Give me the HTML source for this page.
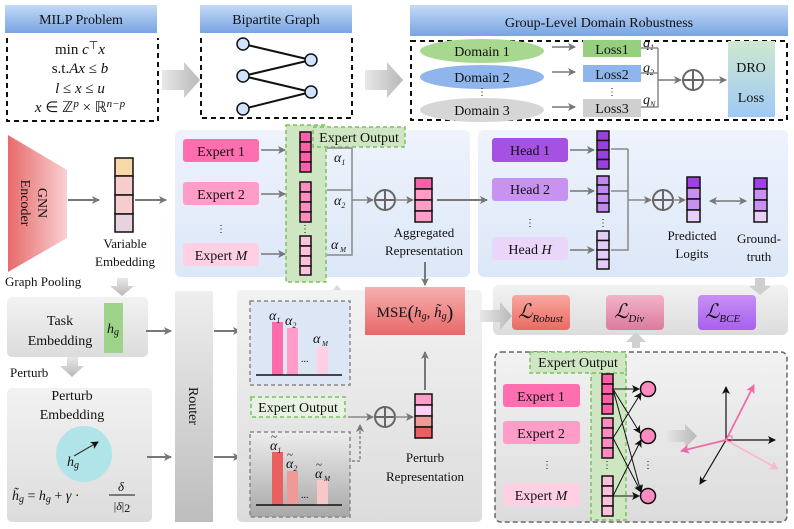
<!DOCTYPE html>
<html><head><meta charset="utf-8"><style>
html,body{margin:0;padding:0;background:#fff}
svg{display:block}
text{font-family:"Liberation Serif",serif;fill:#111}
.m{font-style:italic}
</style></head><body>
<svg width="794" height="529" viewBox="0 0 794 529" xmlns="http://www.w3.org/2000/svg">
<defs>
<linearGradient id="hdr" x1="0" y1="0" x2="0" y2="1"><stop offset="0" stop-color="#c3daf7"/><stop offset="1" stop-color="#78a4e2"/></linearGradient>
<linearGradient id="garr" x1="0" y1="0" x2="1" y2="0"><stop offset="0" stop-color="#e8e8e8"/><stop offset="1" stop-color="#b8b8b8"/></linearGradient>
<linearGradient id="garrv" x1="0" y1="0" x2="0" y2="1"><stop offset="0" stop-color="#e8e8e8"/><stop offset="1" stop-color="#b8b8b8"/></linearGradient>
<linearGradient id="gnn" x1="0" y1="0" x2="1" y2="0"><stop offset="0" stop-color="#e86a6a"/><stop offset="1" stop-color="#f8d0d0"/></linearGradient>
<linearGradient id="blue" x1="0" y1="0" x2="0" y2="1"><stop offset="0" stop-color="#eef3fc"/><stop offset="1" stop-color="#dce7f7"/></linearGradient>
<linearGradient id="grey" x1="0" y1="0" x2="0" y2="1"><stop offset="0" stop-color="#f2f2f2"/><stop offset="1" stop-color="#dcdcdc"/></linearGradient>
<linearGradient id="router" x1="0" y1="0" x2="0" y2="1"><stop offset="0" stop-color="#eeeeee"/><stop offset="1" stop-color="#bdbdbd"/></linearGradient>
<linearGradient id="dro" x1="0" y1="0" x2="0" y2="1"><stop offset="0" stop-color="#cfe8d0"/><stop offset="1" stop-color="#9fcaf5"/></linearGradient>
<linearGradient id="mse" x1="0" y1="0" x2="0" y2="1"><stop offset="0" stop-color="#f6b0b0"/><stop offset="1" stop-color="#e86868"/></linearGradient>
<linearGradient id="lr" x1="0" y1="0" x2="0" y2="1"><stop offset="0" stop-color="#f8a8a0"/><stop offset="1" stop-color="#ea6a62"/></linearGradient>
<linearGradient id="ld" x1="0" y1="0" x2="0" y2="1"><stop offset="0" stop-color="#f2b4c8"/><stop offset="1" stop-color="#dc7aa0"/></linearGradient>
<linearGradient id="lb" x1="0" y1="0" x2="0" y2="1"><stop offset="0" stop-color="#c890f5"/><stop offset="1" stop-color="#a860ee"/></linearGradient>
<linearGradient id="gbar" x1="0" y1="0" x2="0" y2="1"><stop offset="0" stop-color="#ededed"/><stop offset="1" stop-color="#a8a8a8"/></linearGradient>
<marker id="a" markerWidth="8" markerHeight="8" refX="7" refY="4" orient="auto" markerUnits="userSpaceOnUse"><path d="M0,0 L8,4 L0,8 L2,4 Z" fill="#777"/></marker>
<marker id="ak" markerWidth="8" markerHeight="8" refX="7" refY="4" orient="auto" markerUnits="userSpaceOnUse"><path d="M0,0 L8,4 L0,8 L2,4 Z" fill="#111"/></marker>
<marker id="ap" markerWidth="9" markerHeight="9" refX="8" refY="4.5" orient="auto" markerUnits="userSpaceOnUse"><path d="M0,0 L9,4.5 L0,9 L2,4.5 Z" fill="#f06aa8"/></marker>
<marker id="al" markerWidth="9" markerHeight="9" refX="8" refY="4.5" orient="auto" markerUnits="userSpaceOnUse"><path d="M0,0 L9,4.5 L0,9 L2,4.5 Z" fill="#f8b8d0"/></marker>
<marker id="as" markerWidth="8" markerHeight="8" refX="1" refY="4" orient="auto" markerUnits="userSpaceOnUse"><path d="M8,0 L0,4 L8,8 L6,4 Z" fill="#777"/></marker>
</defs>

<!-- TOP ROW -->
<rect x="5" y="5" width="152" height="28" fill="url(#hdr)"/>
<text x="81" y="24" font-size="14" text-anchor="middle">MILP Problem</text>
<path d="M7,38 V121 H158 V38" fill="none" stroke="#111" stroke-width="2" stroke-dasharray="5,4"/>
<g font-size="15" text-anchor="middle">
<text x="80" y="54">min <tspan class="m">c</tspan><tspan dy="-5" font-size="11">⊤</tspan><tspan dy="5" class="m">x</tspan></text>
<text x="80" y="73">s.t.<tspan class="m">Ax</tspan> ≤ <tspan class="m">b</tspan></text>
<text x="80" y="93"><tspan class="m">l</tspan> ≤ <tspan class="m">x</tspan> ≤ <tspan class="m">u</tspan></text>
<text x="80" y="112"><tspan class="m">x</tspan> ∈ ℤ<tspan dy="-5" font-size="11" class="m">p</tspan><tspan dy="5"> × ℝ</tspan><tspan dy="-5" font-size="11" class="m">n−p</tspan></text>
</g>
<path d="M162,70 H184 V62 L200,80 L184,98 V90 H162 Z" fill="url(#garr)"/>

<rect x="200" y="5" width="152" height="28" fill="url(#hdr)"/>
<text x="276" y="24" font-size="14" text-anchor="middle">Bipartite Graph</text>
<path d="M201,38 V118 H352 V38" fill="none" stroke="#111" stroke-width="2" stroke-dasharray="5,4"/>
<g stroke="#111" stroke-width="2"><line x1="243" y1="44" x2="311" y2="60"/><line x1="243" y1="76" x2="311" y2="60"/><line x1="243" y1="76" x2="311" y2="92"/><line x1="243" y1="109" x2="311" y2="92"/></g>
<g fill="#cfe4fa" stroke="#111" stroke-width="1.5"><circle cx="243" cy="44" r="6"/><circle cx="243" cy="76" r="6"/><circle cx="243" cy="109" r="6"/><circle cx="311" cy="60" r="6"/><circle cx="311" cy="92" r="6"/></g>
<path d="M365,70 H387 V62 L403,80 L387,98 V90 H365 Z" fill="url(#garr)"/>

<rect x="410" y="5" width="378" height="31" fill="url(#hdr)"/>
<text x="599" y="27" font-size="14" text-anchor="middle">Group-Level Domain Robustness</text>
<rect x="411" y="41" width="376" height="79" fill="none" stroke="#111" stroke-width="2" stroke-dasharray="5,4"/>
<ellipse cx="482" cy="51" rx="62" ry="12" fill="#a8d890"/>
<ellipse cx="482" cy="77" rx="62" ry="12" fill="#8fb6ec"/>
<ellipse cx="482" cy="110" rx="62" ry="12" fill="#d6d6d6"/>
<g font-size="14" text-anchor="middle"><text x="482" y="56">Domain 1</text><text x="482" y="82">Domain 2</text><text x="482" y="115">Domain 3</text><text x="482" y="95" font-size="10">⋮</text></g>
<g stroke="#777" stroke-width="1.5" marker-end="url(#a)"><line x1="552" y1="47" x2="575" y2="47"/><line x1="552" y1="72" x2="575" y2="72"/><line x1="552" y1="107" x2="575" y2="107"/></g>
<rect x="583" y="40" width="58" height="17" fill="#96cf80"/>
<rect x="583" y="65" width="58" height="17" fill="#8fb6ec"/>
<rect x="583" y="99" width="58" height="18" fill="#cfcfcf"/>
<g font-size="14" text-anchor="middle"><text x="612" y="54">Loss1</text><text x="612" y="79">Loss2</text><text x="612" y="113">Loss3</text><text x="612" y="95" font-size="10">⋮</text></g>
<g font-size="14" class="m"><text x="643" y="47">q<tspan font-size="8" dy="3">1</tspan></text><text x="643" y="72">q<tspan font-size="8" dy="3">2</tspan></text><text x="643" y="104">q<tspan font-size="8" dy="3">N</tspan></text></g>
<path d="M641,48 H658 M641,73 H658 M641,107 H658 V48" fill="none" stroke="#888" stroke-width="1.5"/>
<line x1="658" y1="80" x2="681" y2="80" stroke="#777" stroke-width="1.5" marker-end="url(#a)"/>
<circle cx="693" cy="80" r="10" fill="none" stroke="#666" stroke-width="2"/><path d="M683,80 H703 M693,70 V90" stroke="#666" stroke-width="2"/>
<line x1="703" y1="80" x2="726" y2="80" stroke="#777" stroke-width="1.5" marker-end="url(#a)"/>
<rect x="728" y="41" width="47" height="76" fill="url(#dro)"/>
<g font-size="14" text-anchor="middle"><text x="751" y="72">DRO</text><text x="751" y="102">Loss</text></g>

<!-- MIDDLE ROW -->
<path d="M8,135 L67,170 L67,238 L8,272 Z" fill="url(#gnn)"/>
<text transform="translate(34,203) rotate(90)" font-size="14" text-anchor="middle"><tspan x="0" dy="-4">GNN</tspan><tspan x="0" dy="17">Encoder</tspan></text>
<line x1="68" y1="200" x2="99" y2="200" stroke="#777" stroke-width="2" marker-end="url(#a)"/>
<g stroke="#111" stroke-width="1.5"><rect x="115" y="158" width="18" height="18" fill="#f8d7a8"/><rect x="115" y="176" width="18" height="19" fill="#f6cccc"/><rect x="115" y="195" width="18" height="19" fill="#f6cccc"/><rect x="115" y="214" width="18" height="18" fill="#e8d2de"/></g>
<g font-size="13" text-anchor="middle"><text x="125" y="248">Variable</text><text x="125" y="266">Embedding</text></g>
<line x1="135" y1="200" x2="166" y2="200" stroke="#777" stroke-width="2" marker-end="url(#a)"/>

<rect x="175" y="130" width="295" height="147" rx="6" fill="url(#blue)"/>
<rect x="183" y="139" width="76" height="23" rx="3" fill="#ff6fb0"/>
<rect x="183" y="182" width="76" height="23" rx="3" fill="#ff9cc8"/>
<rect x="183" y="243" width="76" height="23" rx="3" fill="#ffd0e4"/>
<g font-size="14" text-anchor="middle"><text x="221" y="156">Expert 1</text><text x="221" y="199">Expert 2</text><text x="221" y="260">Expert <tspan class="m">M</tspan></text><text x="221" y="232" font-size="10">⋮</text></g>
<g stroke="#777" stroke-width="1.5" marker-end="url(#a)"><line x1="261" y1="150" x2="285" y2="150"/><line x1="261" y1="194" x2="285" y2="194"/><line x1="261" y1="254" x2="285" y2="254"/></g>
<rect x="286" y="125" width="40" height="157" fill="#cfe6c3" stroke="#7cc060" stroke-width="1.5" stroke-dasharray="4,3"/>
<rect x="313" y="127" width="92" height="20" fill="#cfe6c3" stroke="#7cc060" stroke-width="1.5" stroke-dasharray="4,3"/>
<text x="359" y="142" font-size="14" text-anchor="middle">Expert Output</text>
<g stroke="#111" stroke-width="1.5">
<rect x="300" y="132" width="11" height="10" fill="#ff5fa8"/><rect x="300" y="142" width="11" height="10" fill="#ff5fa8"/><rect x="300" y="152" width="11" height="10" fill="#ff5fa8"/><rect x="300" y="162" width="11" height="10" fill="#ff5fa8"/>
<rect x="300" y="182" width="11" height="10" fill="#ff8cc0"/><rect x="300" y="192" width="11" height="10" fill="#ff8cc0"/><rect x="300" y="202" width="11" height="10" fill="#ff8cc0"/><rect x="300" y="212" width="11" height="10" fill="#ff8cc0"/>
<rect x="300" y="236" width="11" height="10" fill="#ffc0dc"/><rect x="300" y="246" width="11" height="10" fill="#ffc0dc"/><rect x="300" y="256" width="11" height="10" fill="#ffc0dc"/><rect x="300" y="266" width="11" height="9" fill="#ffc0dc"/>
</g>
<text x="305" y="232" font-size="10" text-anchor="middle">⋮</text>
<path d="M327,148 H352 M327,190 H352 M327,255 H352 V148" fill="none" stroke="#888" stroke-width="1.5"/>
<g font-size="14" class="m"><text x="334" y="162">α<tspan font-size="8" dy="3">1</tspan></text><text x="334" y="205">α<tspan font-size="8" dy="3">2</tspan></text><text x="331" y="249">α<tspan font-size="7" dy="3"> M</tspan></text></g>
<line x1="352" y1="200" x2="373" y2="200" stroke="#888" stroke-width="1.5" marker-end="url(#a)"/>
<circle cx="385" cy="200" r="10" fill="none" stroke="#666" stroke-width="2"/><path d="M375,200 H395 M385,190 V210" stroke="#666" stroke-width="2"/>
<line x1="395" y1="200" x2="413" y2="200" stroke="#888" stroke-width="1.5" marker-end="url(#a)"/>
<g stroke="#111" stroke-width="1.5"><rect x="415" y="178" width="17" height="11" fill="#ff5fa8"/><rect x="415" y="189" width="17" height="11" fill="#ff9cc8"/><rect x="415" y="200" width="17" height="11" fill="#ff9cc8"/><rect x="415" y="211" width="17" height="11" fill="#ff9cc8"/></g>
<g font-size="13" text-anchor="middle"><text x="424" y="237">Aggregated</text><text x="424" y="255">Representation</text></g>

<rect x="478" y="130" width="310" height="147" rx="6" fill="url(#blue)"/>
<line x1="437" y1="200" x2="487" y2="200" stroke="#777" stroke-width="2" marker-end="url(#a)"/>
<rect x="492" y="138" width="76" height="24" rx="3" fill="#a552e2"/>
<rect x="492" y="178" width="76" height="23" rx="3" fill="#c892f0"/>
<rect x="492" y="237" width="76" height="23" rx="3" fill="#ead6f8"/>
<g font-size="14" text-anchor="middle"><text x="530" y="155">Head 1</text><text x="530" y="194">Head 2</text><text x="530" y="254">Head <tspan class="m">H</tspan></text><text x="530" y="226" font-size="10">⋮</text></g>
<g stroke="#777" stroke-width="1.5" marker-end="url(#a)"><line x1="570" y1="150" x2="594" y2="150"/><line x1="570" y1="191" x2="594" y2="191"/><line x1="570" y1="250" x2="594" y2="250"/></g>
<g stroke="#111" stroke-width="1.5">
<rect x="597" y="131" width="12" height="9.5" fill="#9a40e0"/><rect x="597" y="140.5" width="12" height="9.5" fill="#9a40e0"/><rect x="597" y="150" width="12" height="9.5" fill="#9a40e0"/><rect x="597" y="159.5" width="12" height="9.5" fill="#9a40e0"/>
<rect x="597" y="176" width="12" height="9" fill="#c088ee"/><rect x="597" y="185" width="12" height="9" fill="#c088ee"/><rect x="597" y="194" width="12" height="9" fill="#c088ee"/><rect x="597" y="203" width="12" height="9" fill="#c088ee"/>
<rect x="597" y="231" width="12" height="9.5" fill="#e4ccf8"/><rect x="597" y="240.5" width="12" height="9.5" fill="#e4ccf8"/><rect x="597" y="250" width="12" height="9.5" fill="#e4ccf8"/><rect x="597" y="259.5" width="12" height="9.5" fill="#e4ccf8"/>
</g>
<text x="603" y="226" font-size="10" text-anchor="middle">⋮</text>
<path d="M611,149 H628 M611,191 H628 M611,250 H628 V149" fill="none" stroke="#888" stroke-width="1.5"/>
<line x1="628" y1="200" x2="651" y2="200" stroke="#888" stroke-width="1.5" marker-end="url(#a)"/>
<circle cx="663" cy="200" r="10" fill="none" stroke="#666" stroke-width="2"/><path d="M653,200 H673 M663,190 V210" stroke="#666" stroke-width="2"/>
<line x1="673" y1="200" x2="685" y2="200" stroke="#888" stroke-width="1.5" marker-end="url(#a)"/>
<g stroke="#111" stroke-width="1.5"><rect x="687" y="177" width="13" height="11" fill="#a040e8"/><rect x="687" y="188" width="13" height="11" fill="#c890f0"/><rect x="687" y="199" width="13" height="11" fill="#c890f0"/><rect x="687" y="210" width="13" height="12" fill="#e8d0f8"/></g>
<g font-size="13" text-anchor="middle"><text x="692" y="240">Predicted</text><text x="692" y="258">Logits</text><text x="759" y="243">Ground-</text><text x="759" y="261">truth</text></g>
<line x1="710" y1="201" x2="746" y2="201" stroke="#777" stroke-width="1.5" marker-end="url(#a)" marker-start="url(#as)"/>
<g stroke="#111" stroke-width="1.5"><rect x="754" y="178" width="13" height="11" fill="#a040e8"/><rect x="754" y="189" width="13" height="11" fill="#c890f0"/><rect x="754" y="200" width="13" height="11" fill="#c890f0"/><rect x="754" y="211" width="13" height="11" fill="#e8d0f8"/></g>

<!-- BOTTOM -->
<text x="5" y="286" font-size="13">Graph Pooling</text>
<path d="M117,278 H128 V286 H134 L122,296 L110,286 H117 Z" fill="url(#garrv)"/>
<rect x="7" y="297" width="141" height="60" rx="5" fill="url(#grey)"/>
<g font-size="14" text-anchor="middle"><text x="60" y="325">Task</text><text x="60" y="345">Embedding</text></g>
<rect x="104" y="303" width="19" height="50" fill="#9ed38a"/>
<text x="113" y="333" font-size="14" text-anchor="middle" class="m">h<tspan font-size="10" dy="2">g</tspan></text>
<line x1="146" y1="331" x2="171" y2="331" stroke="#777" stroke-width="2" marker-end="url(#a)"/>
<path d="M67,357 H78 V366 H84 L72,377 L60,366 H67 Z" fill="url(#garrv)"/>
<text x="10" y="377" font-size="13">Perturb</text>
<rect x="7" y="388" width="145" height="134" rx="5" fill="url(#grey)"/>
<g font-size="14" text-anchor="middle"><text x="72" y="400">Perturb</text><text x="72" y="419">Embedding</text></g>
<circle cx="84" cy="454" r="28" fill="#b0e4e8"/>
<line x1="74" y1="456" x2="98" y2="442" stroke="#333" stroke-width="1.2" marker-end="url(#ak)"/>
<text x="67" y="466" font-size="14" class="m">h<tspan font-size="10" dy="2">g</tspan></text>
<text x="12" y="500" font-size="14" class="m">h̃<tspan font-size="10" dy="2">g</tspan><tspan dy="-2" font-style="normal"> = </tspan>h<tspan font-size="10" dy="2">g</tspan><tspan dy="-2" font-style="normal"> + </tspan>γ<tspan font-style="normal"> · </tspan></text>
<text x="121" y="491" font-size="13" class="m" text-anchor="middle">δ</text>
<line x1="109" y1="495" x2="135" y2="495" stroke="#111" stroke-width="1"/>
<text x="122" y="510" font-size="12" text-anchor="middle">|<tspan class="m">δ</tspan>|<tspan dy="2">2</tspan></text>
<line x1="147" y1="457" x2="171" y2="457" stroke="#777" stroke-width="2" marker-end="url(#a)"/>

<rect x="175" y="291" width="38" height="231" fill="url(#router)"/>
<text transform="translate(189,406) rotate(90)" font-size="14" text-anchor="middle">Router</text>
<line x1="214" y1="331" x2="240" y2="331" stroke="#777" stroke-width="2" marker-end="url(#a)"/>
<line x1="214" y1="457" x2="240" y2="457" stroke="#777" stroke-width="2" marker-end="url(#a)"/>

<path d="M337,285 L347,297 H327 Z" fill="#d8d8d8"/>
<rect x="237" y="290" width="245" height="232" rx="5" fill="url(#grey)"/>
<rect x="250" y="301" width="100" height="84" fill="#dde6f4" stroke="#888" stroke-width="1.5" stroke-dasharray="4,3"/>
<rect x="272" y="322" width="11" height="53" fill="#ff6aa8"/>
<rect x="287" y="328" width="11" height="47" fill="#ff9cc8"/>
<rect x="317" y="347" width="11" height="28" fill="#ffd0e4"/>
<line x1="256" y1="375" x2="342" y2="375" stroke="#111" stroke-width="1.5"/>
<g font-size="14" class="m"><text x="269" y="320">α<tspan font-size="8" dy="3">1</tspan></text><text x="285" y="325">α<tspan font-size="8" dy="3">2</tspan></text><text x="313" y="343">α<tspan font-size="7" dy="3"> M</tspan></text></g>
<text x="301" y="362" font-size="10" fill="#c04040">...</text>
<rect x="251" y="397" width="94" height="20" fill="#e8f2e2" stroke="#7cc060" stroke-width="1.5" stroke-dasharray="4,3"/>
<text x="298" y="412" font-size="14" text-anchor="middle">Expert Output</text>
<rect x="250" y="432" width="100" height="85" fill="url(#gbar)" stroke="#888" stroke-width="1.5" stroke-dasharray="4,3"/>
<rect x="272" y="452" width="11" height="53" fill="#e86060"/>
<rect x="287" y="471" width="11" height="34" fill="#f09a98"/>
<rect x="317" y="480" width="11" height="25" fill="#f8c8c8"/>
<line x1="256" y1="505" x2="342" y2="505" stroke="#111" stroke-width="1.5"/>
<g font-size="14" class="m"><text x="270" y="450">α<tspan font-size="8" dy="3">1</tspan></text><text x="286" y="468">α<tspan font-size="8" dy="3">2</tspan></text><text x="315" y="478">α<tspan font-size="7" dy="3"> M</tspan></text></g>
<g font-size="11"><text x="271" y="440">~</text><text x="287" y="458">~</text><text x="316" y="468">~</text></g>
<text x="301" y="498" font-size="10" fill="#c04040">...</text>
<line x1="348" y1="417" x2="373" y2="417" stroke="#888" stroke-width="1.5" marker-end="url(#a)"/>
<path d="M352,461 H360 V425" fill="none" stroke="#888" stroke-width="1.5" stroke-dasharray="3,2" marker-end="url(#a)"/>
<circle cx="385" cy="417" r="10" fill="none" stroke="#666" stroke-width="2"/><path d="M375,417 H395 M385,407 V427" stroke="#666" stroke-width="2"/>
<line x1="395" y1="417" x2="413" y2="417" stroke="#888" stroke-width="1.5" marker-end="url(#a)"/>
<g stroke="#111" stroke-width="1.5"><rect x="415" y="394" width="17" height="11" fill="#ff9cc8"/><rect x="415" y="405" width="17" height="11" fill="#ffd0f4"/><rect x="415" y="416" width="17" height="11" fill="#f09a98"/><rect x="415" y="427" width="17" height="11" fill="#e86060"/></g>
<g font-size="13" text-anchor="middle"><text x="425" y="462">Perturb</text><text x="425" y="481">Representation</text></g>
<line x1="425" y1="390" x2="425" y2="352" stroke="#777" stroke-width="2" marker-end="url(#a)"/>
<line x1="425" y1="262" x2="425" y2="285" stroke="#777" stroke-width="2" marker-end="url(#a)"/>
<rect x="365" y="287" width="100" height="48" fill="url(#mse)"/>
<text x="415" y="317" font-size="15" text-anchor="middle">MSE<tspan font-size="20" dy="2">(</tspan><tspan dy="-2" class="m">h</tspan><tspan font-size="10" dy="2" class="m">g</tspan><tspan dy="-2">, </tspan><tspan class="m">h̃</tspan><tspan font-size="10" dy="2" class="m">g</tspan><tspan font-size="20" dy="0">)</tspan></text>

<rect x="493" y="285" width="295" height="50" rx="6" fill="url(#grey)"/>
<path d="M480,310 H500 V302 L512,316 L500,330 V322 H480 Z" fill="url(#garr)"/>
<path d="M755,278 H765 V286 H771 L760,295 L749,286 H755 Z" fill="#cfcfcf"/>
<rect x="512" y="295" width="58" height="35" rx="4" fill="url(#lr)"/>
<rect x="606" y="295" width="58" height="35" rx="4" fill="url(#ld)"/>
<rect x="698" y="295" width="58" height="35" rx="4" fill="url(#lb)"/>
<g><text x="518" y="318" font-size="20" font-style="italic">ℒ<tspan font-size="11" dy="4">Robust</tspan></text>
<text x="614" y="318" font-size="20" font-style="italic">ℒ<tspan font-size="11" dy="4">Div</tspan></text>
<text x="705" y="318" font-size="20" font-style="italic">ℒ<tspan font-size="11" dy="4">BCE</tspan></text></g>
<path d="M632,348 H640 V342 H646 L636,332 L626,342 H632 Z" fill="#d0d0d0"/>

<rect x="495" y="352" width="292" height="170" rx="6" fill="url(#grey)" stroke="#666" stroke-width="1.5" stroke-dasharray="5,3"/>
<rect x="591" y="365" width="35" height="155" fill="#cfe6c3" stroke="#7cc060" stroke-width="1.5" stroke-dasharray="4,3"/>
<rect x="530" y="352" width="96" height="21" fill="#cfe6c3" stroke="#7cc060" stroke-width="1.5" stroke-dasharray="4,3"/>
<text x="578" y="367" font-size="14" text-anchor="middle">Expert Output</text>
<rect x="503" y="384" width="77" height="23" rx="3" fill="#ff6fb0"/>
<rect x="503" y="421" width="77" height="23" rx="3" fill="#ff9cc8"/>
<rect x="503" y="483" width="77" height="23" rx="3" fill="#ffd0e4"/>
<g font-size="14" text-anchor="middle"><text x="541" y="401">Expert 1</text><text x="541" y="438">Expert 2</text><text x="541" y="500">Expert <tspan class="m">M</tspan></text><text x="547" y="468" font-size="10">⋮</text><text x="648" y="468" font-size="10">⋮</text><text x="607" y="468" font-size="10">⋮</text></g>
<g stroke="#111" stroke-width="1.5">
<rect x="602" y="374" width="11" height="10" fill="#ff5fa8"/><rect x="602" y="384" width="11" height="10" fill="#ff5fa8"/><rect x="602" y="394" width="11" height="10" fill="#ff5fa8"/><rect x="602" y="404" width="11" height="10" fill="#ff5fa8"/>
<rect x="602" y="418" width="11" height="10" fill="#ff8cc0"/><rect x="602" y="428" width="11" height="10" fill="#ff8cc0"/><rect x="602" y="438" width="11" height="10" fill="#ff8cc0"/><rect x="602" y="448" width="11" height="10" fill="#ff8cc0"/>
<rect x="602" y="476" width="11" height="10" fill="#ffc0dc"/><rect x="602" y="486" width="11" height="10" fill="#ffc0dc"/><rect x="602" y="496" width="11" height="10" fill="#ffc0dc"/><rect x="602" y="506" width="11" height="10" fill="#ffc0dc"/>
</g>
<g stroke="#111" stroke-width="1" marker-end="url(#ak)">
<line x1="613" y1="389" x2="639" y2="389"/><line x1="613" y1="389" x2="641" y2="492"/>
<line x1="613" y1="438" x2="641" y2="393"/><line x1="613" y1="438" x2="641" y2="492"/>
<line x1="613" y1="496" x2="641" y2="440"/><line x1="613" y1="496" x2="639" y2="496"/>
<line x1="613" y1="389" x2="640" y2="433"/>
</g>
<g fill="#ff8cc0" stroke="#111" stroke-width="1.5"><circle cx="648" cy="389" r="7.5"/><circle cx="648" cy="436" r="7.5"/><circle cx="648" cy="496" r="7.5"/></g>
<path d="M665,430 H685 V424 L697,436 L685,448 V442 H665 Z" fill="url(#garr)"/>
<g stroke="#111" stroke-width="1.2" marker-end="url(#ak)"><line x1="726" y1="440" x2="726" y2="387"/><line x1="726" y1="440" x2="775" y2="440"/><line x1="726" y1="440" x2="700" y2="484"/></g>
<line x1="726" y1="440" x2="754" y2="385" stroke="#f06aa8" stroke-width="1.8" marker-end="url(#ap)"/>
<line x1="726" y1="440" x2="681" y2="451" stroke="#f06aa8" stroke-width="1.8" marker-end="url(#ap)"/>
<line x1="726" y1="440" x2="778" y2="469" stroke="#f8b8d0" stroke-width="1.8" marker-end="url(#al)"/>
<rect x="727" y="436" width="5" height="5" fill="none" stroke="#f06aa8" stroke-width="1"/>
</svg>
</body></html>
